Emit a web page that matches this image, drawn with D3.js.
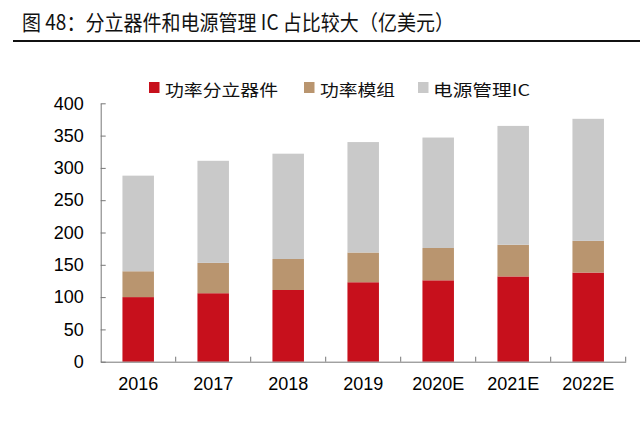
<!DOCTYPE html>
<html><head><meta charset="utf-8">
<script src="https://cdn.jsdelivr.net/npm/d3@7"></script>
<style>
html,body{margin:0;padding:0;background:#fff;}
svg{display:block;}
</style>
</head><body>
<svg id="chart" width="640" height="421"></svg>
<script>
const categories = ["2016","2017","2018","2019","2020E","2021E","2022E"];
const discrete = [100,106,111,123,126,132,138];   // 功率分立器件
const modules  = [40,47,48,46,50,49,49];          // 功率模组
const pmic     = [148,158,163,171,171,184,189];   // 电源管理IC
const seriesNames = ["功率分立器件","功率模组","电源管理IC"];
const seriesColors = ["#C7101C","#B9956F","#C9C9C9"];
const yTicks = [0,50,100,150,200,250,300,350,400];
const titleText = "图 48：分立器件和电源管理 IC 占比较大（亿美元）";

const svg = d3.select("#chart");
const cjk = "'Noto Sans CJK SC','Noto Sans',sans-serif";
const latin = "'Liberation Sans',Arial,sans-serif";

// title
svg.append("text").attr("x",22).attr("y",30)
  .attr("font-family",cjk).attr("font-size",21).attr("font-weight",400)
  .attr("fill","#111").attr("textLength",432).attr("lengthAdjust","spacingAndGlyphs")
  .text(titleText);
svg.append("line").attr("x1",13).attr("x2",640).attr("y1",41).attr("y2",41)
  .attr("stroke","#111").attr("stroke-width",1.8);

const left = 100.7, right = 625.7, y0 = 361.7, y1 = 103.3;
const x = d3.scaleBand().domain(categories).range([left,right]).paddingInner(0.58).paddingOuter(0.29);
const y = d3.scaleLinear().domain([0,400]).range([y0,y1]);

const rows = categories.map((c,i)=>({cat:c, s0:discrete[i], s1:modules[i], s2:pmic[i]}));
const stack = d3.stack().keys(["s0","s1","s2"])(rows);

svg.append("g").selectAll("g").data(stack).join("g")
  .attr("fill",(d,i)=>seriesColors[i])
  .selectAll("rect").data(d=>d).join("rect")
  .attr("x",d=>x(d.data.cat)).attr("width",x.bandwidth())
  .attr("y",d=>y(d[1])).attr("height",d=>y(d[0])-y(d[1]));

const axisColor = "#777";
// y axis
const ya = svg.append("g").attr("transform",`translate(${left},0)`)
  .call(d3.axisLeft(y).tickValues(yTicks).tickSizeInner(-5).tickSizeOuter(0).tickPadding(17));
ya.select(".domain").attr("stroke",axisColor);
ya.selectAll(".tick line").attr("stroke",axisColor);
ya.selectAll("text").attr("font-family",latin).attr("font-size",18).attr("fill","#000");

// x axis
const xa = svg.append("g").attr("transform",`translate(0,${y0})`)
  .call(d3.axisBottom(x).tickSize(0).tickPadding(12));
xa.select(".domain").attr("stroke",axisColor);
xa.selectAll("text").attr("font-family",latin).attr("font-size",18).attr("fill","#000").attr("dy","0.93em");
const step = x.step();
const bounds = categories.map(c=>x(c)+x.bandwidth()/2+step/2);
svg.append("g").selectAll("line").data(bounds).join("line")
  .attr("x1",d=>d).attr("x2",d=>d).attr("y1",y0).attr("y2",y0-5)
  .attr("stroke",axisColor);

// legend
const legendPos = [{sq:149,tx:165,len:113},{sq:304,tx:320,len:75},{sq:418,tx:433,len:97}];
const lg = svg.append("g");
seriesNames.forEach((n,i)=>{
  lg.append("rect").attr("x",legendPos[i].sq).attr("y",82).attr("width",10.5).attr("height",11).attr("fill",seriesColors[i]);
  lg.append("text").attr("x",legendPos[i].tx).attr("y",95.5)
    .attr("font-family",cjk).attr("font-size",16).attr("font-weight",400).attr("fill","#111")
    .attr("textLength",legendPos[i].len).attr("lengthAdjust","spacingAndGlyphs").text(n);
});
</script>
</body></html>
